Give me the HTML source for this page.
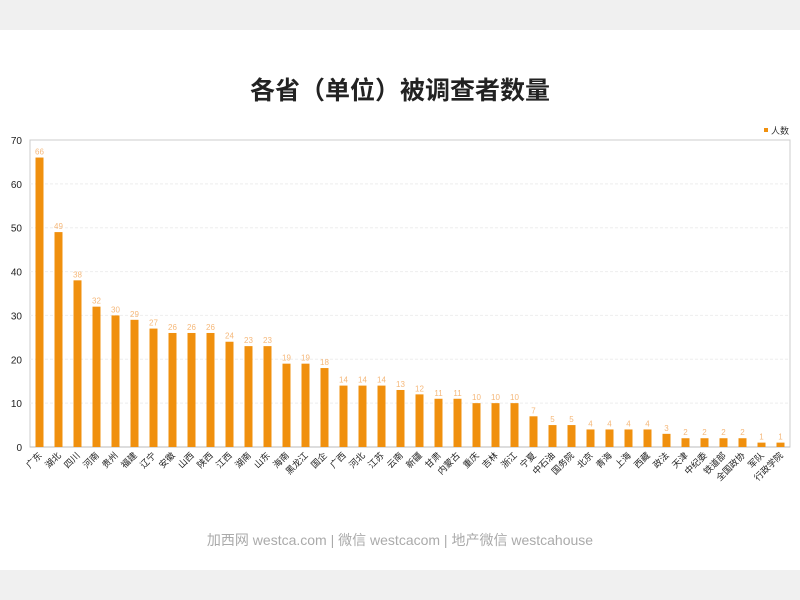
<!DOCTYPE html>
<html><head><meta charset="utf-8"><style>
body{margin:0;background:#fff;}
svg{display:block;font-family:"Liberation Sans","Noto Sans CJK SC",sans-serif;}
</style></head><body>
<svg width="800" height="600" xmlns="http://www.w3.org/2000/svg">
<rect x="0" y="0" width="800" height="30" fill="#f0f0f0"/>
<rect x="0" y="570" width="800" height="30" fill="#f0f0f0"/>
<text x="400" y="99" text-anchor="middle" font-size="25" font-weight="bold" fill="#222">各省（单位）被调查者数量</text>
<rect x="764" y="128" width="4" height="4" fill="#f0900e"/>
<text x="771" y="134" font-size="9" fill="#333">人数</text>
<g id="g"></g>
<text x="400" y="545" text-anchor="middle" font-size="14" fill="#aaa">加西网 westca.com | 微信 westcacom | 地产微信 westcahouse</text>
</svg>
<script>
var names="广东 湖北 四川 河南 贵州 福建 辽宁 安徽 山西 陕西 江西 湖南 山东 海南 黑龙江 国企 广西 河北 江苏 云南 新疆 甘肃 内蒙古 重庆 吉林 浙江 宁夏 中石油 国务院 北京 青海 上海 西藏 政法 天津 中纪委 铁道部 全国政协 军队 行政学院".split(" ");
var vals=[66,49,38,32,30,29,27,26,26,26,24,23,23,19,19,18,14,14,14,13,12,11,11,10,10,10,7,5,5,4,4,4,4,3,2,2,2,2,1,1];
var L=30,R=790,T=140,B=447,s=(B-T)/70,w=(R-L)/40,h='';
h+='<rect x="'+L+'" y="'+T+'" width="'+(R-L)+'" height="'+(B-T)+'" fill="none" stroke="#ccc"/>';
for(var i=0;i<=7;i++){var y=B-i*10*s;
 if(i>0&&i<7)h+='<line x1="'+L+'" x2="'+R+'" y1="'+y+'" y2="'+y+'" stroke="#eee" stroke-dasharray="3,2"/>';
 h+='<text x="'+(L-8)+'" y="'+(y+4)+'" text-anchor="end" font-size="10" fill="#222">'+(i*10)+'</text>';}
h+='<line x1="'+L+'" x2="'+R+'" y1="'+B+'" y2="'+B+'" stroke="#bbb"/>';
for(var i=0;i<40;i++){var cx=L+w*(i+0.5),bh=vals[i]*s;
 h+='<rect x="'+(cx-4)+'" y="'+(B-bh)+'" width="8" height="'+bh+'" fill="#f0900e"/>';
 h+='<text x="'+cx+'" y="'+(B-bh-3)+'" text-anchor="middle" font-size="8" fill="#f5b87a">'+vals[i]+'</text>';
 h+='<text transform="translate('+(cx+3)+','+(B+9)+') rotate(-45)" text-anchor="end" font-size="9" fill="#222">'+names[i]+'</text>';}
document.getElementById('g').innerHTML=h;
</script>
</body></html>
